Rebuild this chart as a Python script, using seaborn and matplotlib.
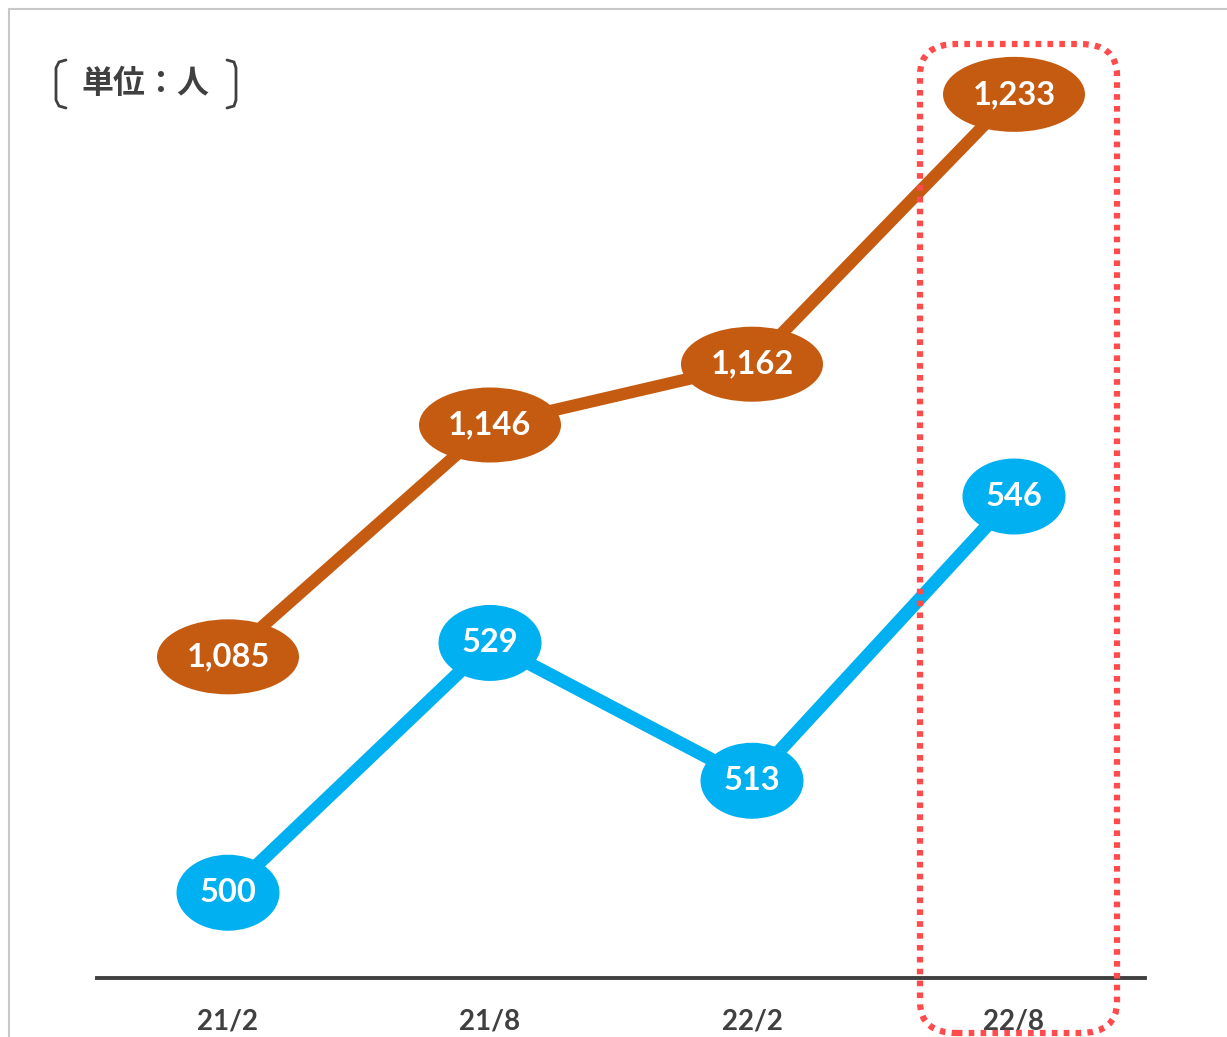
import numpy as np
import pandas as pd
import seaborn as sns
import matplotlib
matplotlib.use('Agg')
import matplotlib.pyplot as plt
from matplotlib.patches import Ellipse, FancyBboxPatch, Rectangle
from matplotlib.lines import Line2D
from matplotlib.transforms import ScaledTranslation

# data
periods = ['21/2', '21/8', '22/2', '22/8']
total = [1085, 1146, 1162, 1233]
subset = [500, 529, 513, 546]

orange = '#C55A11'
blue = '#00B0F0'
dark = '#404040'

sns.set_style('white')
plt.rcParams['font.family'] = ['Lato', 'Noto Sans CJK JP', 'DejaVu Sans']

W, H = 1227, 1037
fig = plt.figure(figsize=(W / 100, H / 100), dpi=100)

def fx(px):
    return px / W

def fy(py):
    return 1 - py / H

ax = fig.add_axes([fx(97), fy(978), fx(1145) - fx(97), fy(40) - fy(978)])
ax2 = ax.twinx()

df_b = pd.DataFrame({'x': range(len(periods)), 'v': subset})
df_o = pd.DataFrame({'x': range(len(periods)), 'v': total})
sns.lineplot(data=df_b, x='x', y='v', ax=ax, color=blue, lw=9.5, zorder=2)
sns.lineplot(data=df_o, x='x', y='v', ax=ax2, color=orange, lw=8.8, zorder=2)

ax.set_xlim(-0.5, 3.5)
ax.set_ylim(490.1, 599.0)
ax2.set_ylim(1000.5, 1247.3)

for a in (ax, ax2):
    a.set_ylabel('')
    a.set_yticks([])
    a.set_xlabel('')
    for s in ['top', 'left', 'right', 'bottom']:
        a.spines[s].set_visible(False)
ax.spines['bottom'].set_visible(True)
ax.spines['bottom'].set_color(dark)
ax.spines['bottom'].set_linewidth(2.8)
ax.set_xticks(range(len(periods)), periods, fontsize=20, fontweight='bold', color=dark)
ax.tick_params(axis='x', length=0, pad=22)


def bubble(a, x, y, w, h, color, text):
    tr = fig.dpi_scale_trans + ScaledTranslation(x, y, a.transData)
    a.add_patch(Ellipse((0, 0), w / 100, h / 100, transform=tr,
                        facecolor=color, edgecolor='none', zorder=5, clip_on=False))
    a.text(x, y, text, ha='center', va='center', color='white', fontsize=23.5,
           fontweight='bold', zorder=6)


for i, v in enumerate(subset):
    bubble(ax, i, v, 103, 76, blue, f'{v:,}')
for i, v in enumerate(total):
    bubble(ax2, i, v, 142, 75, orange, f'{v:,}')

# outer frame
fig.patches.append(Rectangle((fx(9), fy(1100)), 2, fy(9) - fy(1100),
                             transform=fig.transFigure, fill=False,
                             edgecolor='#C8C8C8', lw=1.5))

# highlight box around last period
fig.patches.append(FancyBboxPatch((fx(920), fy(1033)), fx(1117) - fx(920), fy(44) - fy(1033),
                                  boxstyle='round,pad=0,rounding_size=0.03',
                                  transform=fig.transFigure, fill=False,
                                  edgecolor='#FF4B4B', lw=4.5, linestyle=(0, (0.9, 1.0)),
                                  zorder=10))

# unit label with brackets
fig.text(fx(145), fy(84), '単位：人', ha='center', va='center', fontsize=23,
         fontweight='bold', color=dark, family=['Noto Sans CJK JP'])
lb_x = [66, 59, 56, 56, 59, 66]
lb_y = [60, 62, 68, 100, 106, 108]
fig.lines.append(Line2D([fx(v) for v in lb_x], [fy(v) for v in lb_y],
                        transform=fig.transFigure, color=dark, lw=2))
rb_x = [227, 234, 236, 236, 234, 227]
fig.lines.append(Line2D([fx(v) for v in rb_x], [fy(v) for v in lb_y],
                        transform=fig.transFigure, color=dark, lw=2))

fig.savefig('out.png', dpi=100)
